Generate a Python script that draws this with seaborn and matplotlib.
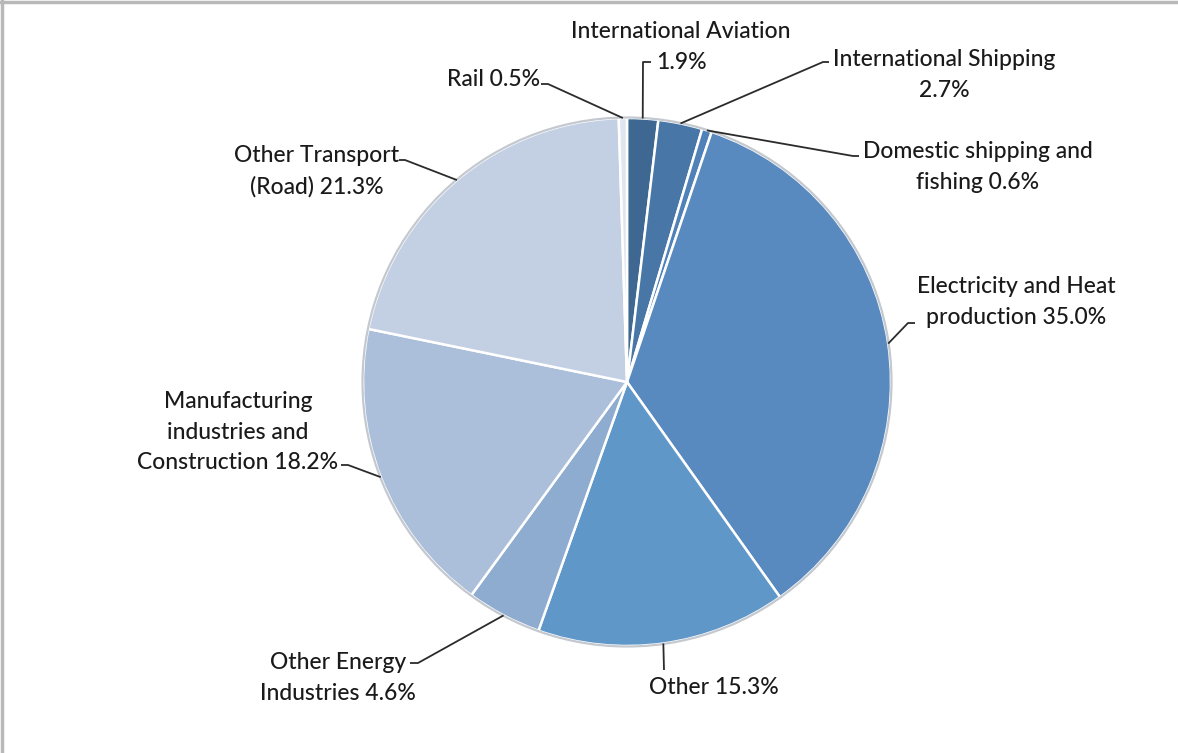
import numpy as np
import matplotlib
matplotlib.use("Agg")
import matplotlib.pyplot as plt
import seaborn as sns

# ---- data (clockwise from 12 o'clock) ----
categories = [
    "International Aviation",
    "International Shipping",
    "Domestic shipping and fishing",
    "Electricity and Heat production",
    "Other",
    "Other Energy Industries",
    "Manufacturing industries and Construction",
    "Other Transport (Road)",
    "Rail",
]
values = [1.9, 2.7, 0.6, 35.0, 15.3, 4.6, 18.2, 21.3, 0.5]
labels = [
    "International Aviation\n1.9%",
    "International Shipping\n2.7%",
    "Domestic shipping and\nfishing 0.6%",
    "Electricity and Heat\nproduction 35.0%",
    "Other 15.3%",
    "Other Energy\nIndustries 4.6%",
    "Manufacturing\nindustries and\nConstruction 18.2%",
    "Other Transport\n(Road) 21.3%",
    "Rail 0.5%",
]
colors = ["#3e6791", "#4776a7", "#5081b8", "#5889bf", "#5f97c9",
          "#8eabd0", "#abbfdb", "#c3d0e4", "#dfe6f0"]

sns.set_theme(style="white")
plt.rcParams["font.family"] = ["Lato", "DejaVu Sans"]

W, H = 1178, 753
fig = plt.figure(figsize=(W / 100, H / 100), dpi=100)
ax = fig.add_axes([0, 0, 1, 1])

# pie geometry in pixel space (y measured from top, converted below)
cx, cy_top, R = 627, 382, 264
cy = H - cy_top

wedges, _ = ax.pie(values, colors=colors, startangle=90, counterclock=False,
                   center=(cx, cy), radius=R,
                   wedgeprops=dict(edgecolor="white", linewidth=1.8))
ax.add_patch(plt.Circle((cx, cy), R + 0.5, fill=False, edgecolor="#c4c9d0", linewidth=1.6, zorder=5))

# label layout: text position (x, y from top), leader elbow, leader end
layout = [
    dict(t=(681, 47), pts=[(643, 62), (651, 62)]),
    dict(t=(944, 75), pts=[(823, 62), (829, 62)]),
    dict(t=(978, 167), pts=[(853, 156), (859, 156)]),
    dict(t=(1016, 302), pts=[(908, 323), (915, 323)]),
    dict(t=(714, 687), pts=[(664, 670)]),
    dict(t=(338, 678), pts=[(418, 663), (410, 663)]),
    dict(t=(238, 432), pts=[(348, 465), (341, 465)]),
    dict(t=(317, 171), pts=[(405, 160), (399, 160)]),
    dict(t=(494, 79), pts=[(548, 84), (541, 84)]),
]

total = sum(values)
cum = np.cumsum([0] + values[:-1])
for i, (v, c0) in enumerate(zip(values, cum)):
    mid = (c0 + v / 2) / total * 2 * np.pi  # clockwise from top
    sx = cx + R * np.sin(mid)
    sy = cy + R * np.cos(mid)
    L = layout[i]
    xs = [sx] + [p[0] for p in L["pts"]]
    ys = [sy] + [H - p[1] for p in L["pts"]]
    ax.plot(xs, ys, color="#2b2b2b", linewidth=1.3, solid_capstyle="butt", zorder=6)
    ax.text(L["t"][0], H - L["t"][1], labels[i], ha="center", va="center",
            multialignment="center", fontsize=16.5, fontweight="medium",
            color="#1a1a1a", linespacing=1.55, zorder=7)

# frame lines of the original image (top and left)
ax.plot([0, W], [H - 1.5, H - 1.5], color="#b8b8b8", linewidth=2.5, clip_on=False)
ax.plot([1.5, 1.5], [0, H], color="#b8b8b8", linewidth=2.5, clip_on=False)

ax.set_xlim(0, W)
ax.set_ylim(0, H)
ax.set_aspect("equal")
ax.axis("off")

fig.savefig("out.png", dpi=100, facecolor="white")
